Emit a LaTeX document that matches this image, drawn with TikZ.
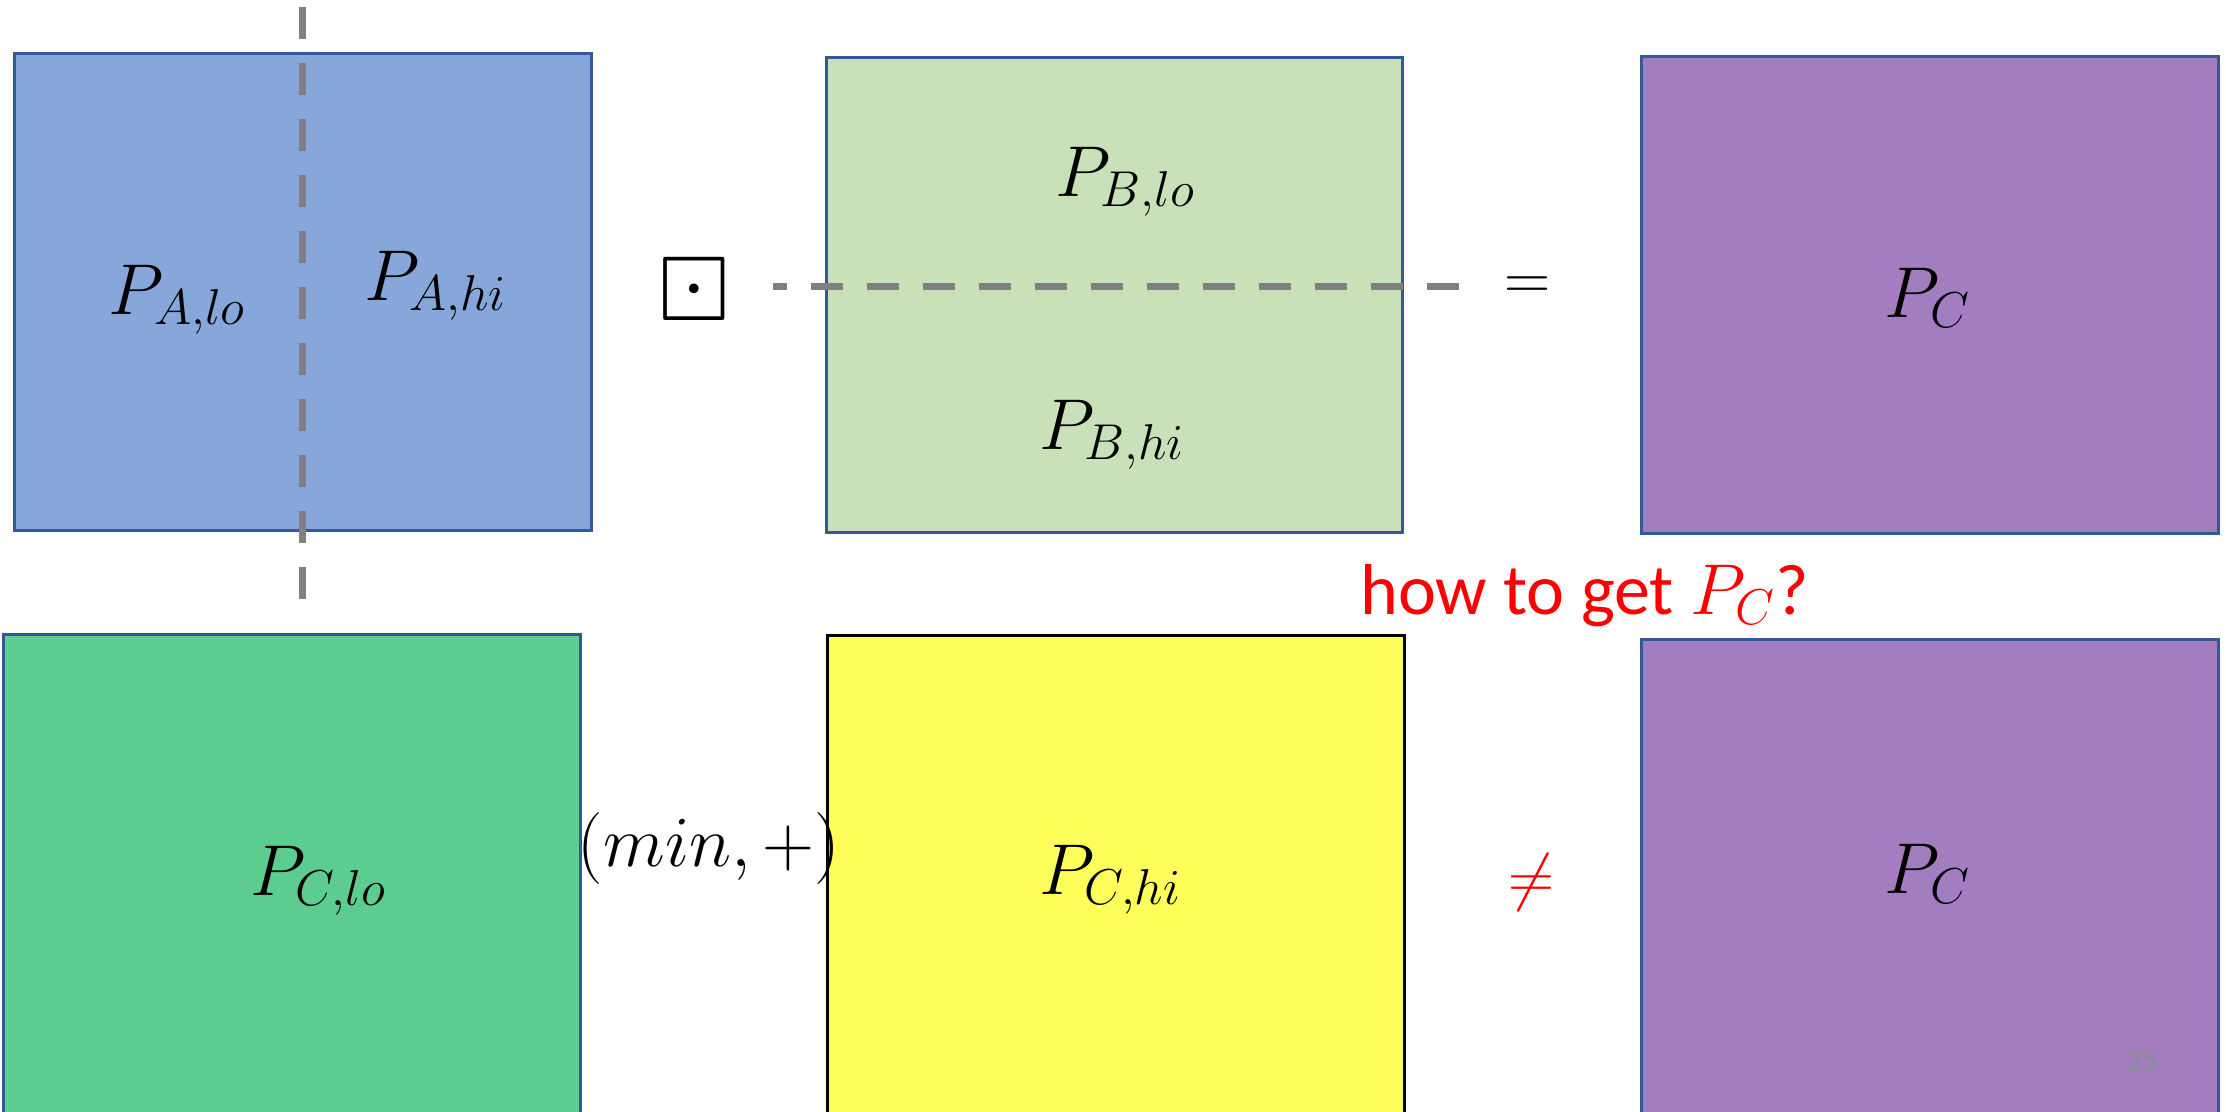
\RequirePackage{fix-cm}
\documentclass[tikz,border=0pt]{standalone}
\usepackage{amsmath,amssymb}
\usepackage[no-math]{fontspec}
\setmainfont{Carlito}
\definecolor{fillA}{HTML}{87A6DA}
\definecolor{fillB}{HTML}{C9E0B8}
\definecolor{fillClo}{HTML}{5CCD8E}
\definecolor{fillChi}{HTML}{FFFF5C}
\definecolor{fillC}{HTML}{A47CC0}
\definecolor{edgeblue}{HTML}{35589A}
\definecolor{dashgray}{HTML}{808080}
\definecolor{pagegray}{HTML}{8A8F8A}
\tikzset{
  matbox/.style={rectangle, draw=edgeblue, line width=3pt, inner sep=0pt, minimum width=#1},
  lbl/.style={inner sep=0pt, anchor=base, font=\fontsize{72}{86}\selectfont},
  splitline/.style={draw=dashgray, line width=7pt, dash pattern=on 32pt off 24pt},
}
\begin{document}
\begin{tikzpicture}[x=1pt,y=-1pt]
\useasboundingbox (0,0) rectangle (2226,1111);
% top row boxes
\node[matbox=577pt, minimum height=477pt, fill=fillA] (boxA) at (302.5,291.5) {};
\node[matbox=576pt, minimum height=475pt, fill=fillB] (boxB) at (1114,294.5) {};
\node[matbox=577pt, minimum height=477pt, fill=fillC] (boxC) at (1929.5,294.5) {};
% bottom row boxes
\node[matbox=577pt, minimum height=481pt, fill=fillClo] (boxClo) at (291.5,874.5) {};
\node[matbox=577pt, minimum height=480pt, fill=fillChi, draw=black] (boxChi) at (1115.5,875) {};
\node[matbox=577pt, minimum height=476pt, fill=fillC] (boxC2) at (1929.5,877) {};
% dashed split lines
\coordinate (vtop) at (302,7);
\coordinate (vbot) at (302,599);
\coordinate (hleft) at (773,286);
\coordinate (hright) at (1459,286);
\draw[splitline] (vtop) -- (vbot);
\draw[splitline, dash phase=18pt] (hleft) -- (hright);
% labels
\node[lbl] (lAlo) at (177,314) {$P_{A,lo}$};
\node[lbl] (lAhi) at (435,300) {$P_{A,hi}$};
\node[lbl] (lBlo) at (1125,196) {$P_{B,lo}$};
\node[lbl] (lBhi) at (1112,449) {$P_{B,hi}$};
\node[lbl] (lC) at (1927,317) {$P_{C}$};
\node[lbl] (lClo) at (318,895) {$P_{C,lo}$};
\node[lbl] (lChi) at (1110,894) {$P_{C,hi}$};
\node[lbl] (lC2) at (1927,893) {$P_{C}$};
\node[lbl] (minplus) at (709,866) {$(min,+)$};
% operators
\node[inner sep=0pt, font=\fontsize{92}{100}\selectfont] (odot) at (694,289.5) {$\boxdot$};
\node[inner sep=0pt, font=\fontsize{64}{80}\selectfont] (eq) at (1528,288.5) {$=$};
\node[inner sep=0pt, font=\fontsize{64}{80}\selectfont, text=red] (neq) at (1532,882) {$\neq$};
% question
\node[inner sep=0pt, anchor=base west, font=\fontsize{72}{86}\selectfont, text=red] (question) at (1360,614) {how to get $P_{C}$?};
% page number
\node[inner sep=0pt, font=\fontsize{31}{36}\selectfont, text=pagegray] (pagenum) at (2142,1061) {25};
\end{tikzpicture}
\end{document}
